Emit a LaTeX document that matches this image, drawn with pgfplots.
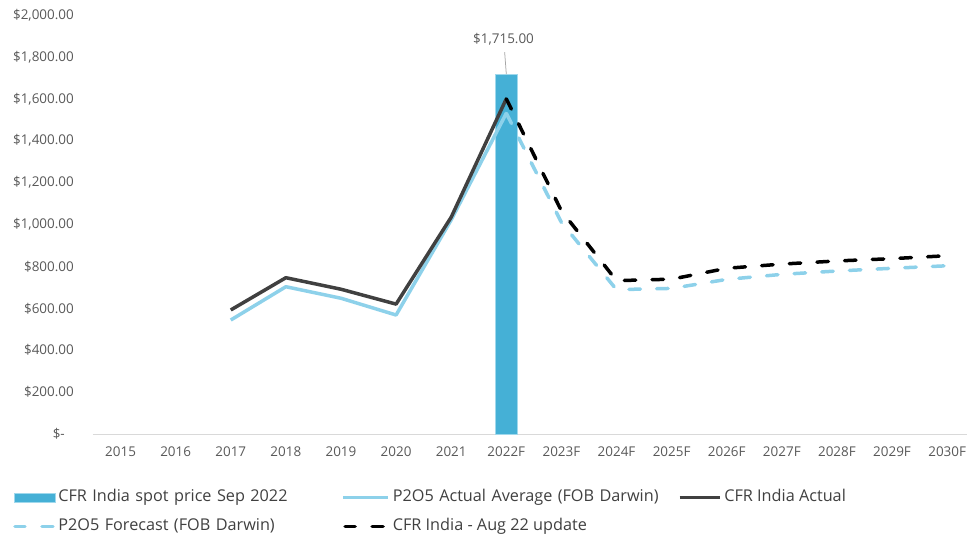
\documentclass[border=0pt]{standalone}
\usepackage{fontspec}
\setmainfont{Open Sans}
\usepackage{pgfplots}
\pgfplotsset{compat=1.18}
\definecolor{barblue}{RGB}{69,176,214}
\definecolor{baredge}{RGB}{160,216,236}
\definecolor{lblue}{RGB}{141,209,234}
\definecolor{dgray}{RGB}{64,64,64}
\definecolor{txt}{RGB}{89,89,89}
\definecolor{axgray}{RGB}{217,217,217}
\definecolor{leadgray}{RGB}{166,166,166}

\begin{document}
\begin{tikzpicture}
\begin{axis}[
  scale only axis, width=874bp, height=419bp,
  xmin=-0.5, xmax=15.36, ymin=0, ymax=2000,
  axis x line*=bottom, axis y line*=left,
  x axis line style={draw=axgray, line width=1bp, -},
  y axis line style={draw=none, -},
  major tick length=0pt,
  xtick={0,...,15},
  xticklabels={2015,2016,2017,2018,2019,2020,2021,2022F,2023F,2024F,2025F,2026F,2027F,2028F,2029F,2030F},
  ytick={0,200,...,2000},
  yticklabels={{\$-\kern9bp},{\$200.00},{\$400.00},{\$600.00},{\$800.00},{\$1,000.00},{\$1,200.00},{\$1,400.00},{\$1,600.00},{\$1,800.00},{\$2,000.00}},
  tick label style={font=\fontsize{13.5}{15}\selectfont, text=txt},
  xticklabel style={yshift=-9bp},
  yticklabel style={xshift=-15.7bp},
  clip=false,
  legend columns=3,
  legend cell align=left,
  legend style={at={(-0.0915,-0.124)}, anchor=north west, draw=none, fill=none,
    inner sep=0pt, column sep=0pt, row sep=6.5bp,
    font=\fontsize{16.3}{18}\selectfont, text=dgray,
    nodes={inner xsep=3bp, inner ysep=4bp, text height=11bp, text depth=3.5bp}},
]
\coordinate (O) at (axis cs:-0.5,0);

\addplot[ybar, bar width=22bp, fill=barblue, draw=baredge, line width=0.75bp,
  legend image code/.code={\filldraw[fill=barblue, draw=baredge, line width=0.75bp] (1bp,-4.5bp) rectangle (42bp,4.5bp);}]
  coordinates {(7,1715)};
\addlegendentry[text width=280bp]{CFR India spot price Sep 2022}

\addplot[lblue, line width=3.5bp, line join=round, mark=none,
  legend image code/.code={\draw[lblue, line width=3.5bp] (0bp,0) -- (45bp,0);}]
  coordinates {(2,544)(3,703)(4,648)(5,568)(6,1022)(7,1531)};
\addlegendentry[text width=282bp]{P2O5 Actual Average (FOB Darwin)}

\addplot[dgray, line width=3.5bp, line join=round, mark=none,
  legend image code/.code={\draw[dgray, line width=3.5bp] (0bp,0) -- (40bp,0);}]
  coordinates {(2,592)(3,746)(4,691)(5,620)(6,1035)(7,1600)};
\addlegendentry{CFR India Actual}

\addplot[lblue, line width=3.5bp, line cap=round, line join=round, mark=none,
  dash pattern=on 11.5bp off 16.2bp,
  legend image code/.code={\draw[lblue, line width=3.5bp, line cap=round] (2bp,0) -- (12bp,0) (29bp,0) -- (40bp,0);}]
  coordinates {(7,1531)(8,1010)(9,689)(10,695)(11,738)(12,762)(13,778)(14,791)(15,803)};
\addlegendentry[text width=280bp]{P2O5 Forecast (FOB Darwin)}

\addplot[black, line width=3.5bp, line cap=round, line join=round, mark=none,
  dash pattern=on 11.5bp off 16.2bp,
  legend image code/.code={\draw[black, line width=3.5bp, line cap=round] (2bp,0) -- (12bp,0) (29bp,0) -- (40bp,0);}]
  coordinates {(7,1600)(8,1065)(9,732)(10,739)(11,791)(12,811)(13,826)(14,837)(15,851)};
\addlegendentry{CFR India - Aug 22 update}

\draw[leadgray, line width=0.75bp] (axis cs:6.97,1823) -- (axis cs:7,1718);
\node[font=\fontsize{13.5}{15}\selectfont, text=txt] at (axis cs:6.95,1882) {\$1,715.00};
\end{axis}
\pgfresetboundingbox
\path ([shift={(-93bp,-105bp)}]O) rectangle ([shift={(874bp,434bp)}]O);
\end{tikzpicture}
\end{document}
